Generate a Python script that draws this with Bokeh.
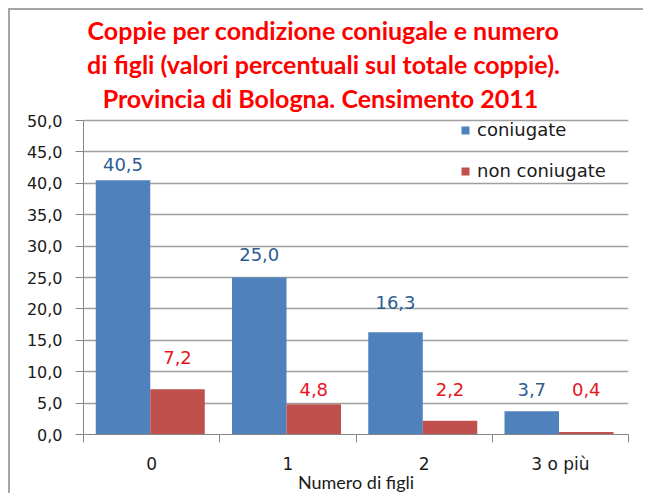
from bokeh.plotting import figure
from bokeh.models import (ColumnDataSource, Range1d, FixedTicker, CustomJSTickFormatter,
                          Legend, LegendItem, LabelSet, Label)
from bokeh.core.properties import value
from bokeh.embed import file_html
from bokeh.resources import INLINE

# ---------------- data ----------------
categories = ["0", "1", "2", "3 o più"]
coniugate = [40.5, 25.0, 16.3, 3.7]
non_coniugate = [7.2, 4.8, 2.2, 0.4]
series_names = ["coniugate", "non coniugate"]
y_ticks = [0, 5, 10, 15, 20, 25, 30, 35, 40, 45, 50]
title_lines = ["Coppie per condizione coniugale e numero",
               "di figli (valori percentuali sul totale coppie).",
               "Provincia di Bologna.  Censimento 2011"]
x_title = "Numero di figli"

# label heights (data units) as placed in the original chart
label_y_con = [43.0, 28.6, 21.0, 7.1]
label_y_non = [12.2, 7.1, 7.1, 7.1]

# ---------------- style ----------------
BLUE = "#4F81BD"
RED = "#C0504D"
BLUE_TXT = "#2E5C8F"
RED_TXT = "#E8141E"
GRID = "#A0A0A0"
AXIS = "#868686"
TXT = "#1A1A1A"
FONT = "DejaVu Sans"

W, H = 635, 485
LEFT, RIGHT, BOTTOM = 73, 17, 61
PLOT_PX = 314.0           # pixel height of the 0..50 value band
Y_MAX = 50
frame_h = H - BOTTOM
y_end = Y_MAX * frame_h / PLOT_PX   # frame reaches the top so the title fits inside it

n = len(categories)
centers = [i + 0.5 for i in range(n)]
bounds = [i for i in range(n + 1)]
fmt = lambda v: f"{v:.1f}".replace(".", ",")

src_c = ColumnDataSource(dict(x=[c - 0.21 for c in centers], y=coniugate,
                              ly=label_y_con, txt=[fmt(v) for v in coniugate]))
src_n = ColumnDataSource(dict(x=[c + 0.19 for c in centers], y=non_coniugate,
                              ly=label_y_non, txt=[fmt(v) for v in non_coniugate]))

p = figure(width=W, height=H, x_range=Range1d(0, n), y_range=Range1d(0, y_end),
           output_backend="svg", toolbar_location=None,
           min_border_left=LEFT, min_border_right=RIGHT, min_border_top=0,
           min_border_bottom=BOTTOM)
p.styles = {"margin-left": "8px", "margin-top": "8px",
            "border-left": "2px solid #A6A6A6", "border-top": "2px solid #A6A6A6"}
p.outline_line_color = None
p.background_fill_color = "white"
p.border_fill_color = "white"

r1 = p.vbar(x="x", top="y", width=0.4, source=src_c, fill_color=BLUE, line_color=None)
r2 = p.vbar(x="x", top="y", width=0.4, source=src_n, fill_color=RED, line_color=None)

# grid
p.xgrid.grid_line_color = None
p.ygrid.ticker = FixedTicker(ticks=y_ticks)
p.ygrid.grid_line_color = GRID
p.ygrid.grid_line_width = 1.5

# y axis
ya = p.yaxis[0]
ya.ticker = FixedTicker(ticks=y_ticks)
ya.bounds = (0, Y_MAX)
ya.formatter = CustomJSTickFormatter(code="return tick.toFixed(1).replace('.', ',');")
ya.axis_line_color = AXIS
ya.major_tick_line_color = AXIS
ya.major_tick_out = 8
ya.major_tick_in = 0
ya.minor_tick_line_color = None
ya.major_label_standoff = 13
ya.major_label_text_font = FONT
ya.major_label_text_font_size = "16px"
ya.major_label_text_color = TXT

# x axis
xa = p.xaxis[0]
xa.ticker = FixedTicker(ticks=centers, minor_ticks=bounds)
xa.major_label_overrides = {c: lab for c, lab in zip(centers, categories)}
xa.axis_line_color = AXIS
xa.major_tick_line_color = None
xa.major_tick_out = 0
xa.major_tick_in = 0
xa.minor_tick_line_color = AXIS
xa.minor_tick_out = 8
xa.minor_tick_in = 0
xa.major_label_standoff = 11
xa.major_label_text_font = FONT
xa.major_label_text_font_size = "17px"
xa.major_label_text_color = TXT
xa.axis_label = x_title
xa.axis_label_text_font = "Lato"
xa.axis_label_text_font_style = "normal"
xa.axis_label_text_font_size = "18px"
xa.axis_label_text_color = TXT
xa.axis_label_standoff = -6

# data labels
for src, col in ((src_c, BLUE_TXT), (src_n, RED_TXT)):
    p.add_layout(LabelSet(x="x", y="ly", text="txt", source=src, text_align="center",
                          text_baseline="middle", text_font=value(FONT),
                          text_font_size=value("18px"), text_color=value(col)))

# legend
legend = Legend(items=[LegendItem(label=series_names[0], renderers=[r1]),
                       LegendItem(label=series_names[1], renderers=[r2])],
                location=(377, 253), padding=0, margin=0, spacing=20,
                glyph_width=10, glyph_height=10, label_height=20, label_standoff=7,
                label_text_font=FONT, label_text_font_size="18px", label_text_color=TXT,
                border_line_color=None, background_fill_alpha=0)
p.add_layout(legend, "center")

# title (three centred lines over the whole chart)
for line, yy in zip(title_lines, [405, 371, 337]):
    p.add_layout(Label(x=240, y=yy, x_units="screen", y_units="screen", text=line,
                       text_align="center", text_baseline="middle", text_font="Lato",
                       text_font_style="bold", text_font_size="25px", text_color="#FF0000"))

open("out.html", "w").write(file_html(p, INLINE))
